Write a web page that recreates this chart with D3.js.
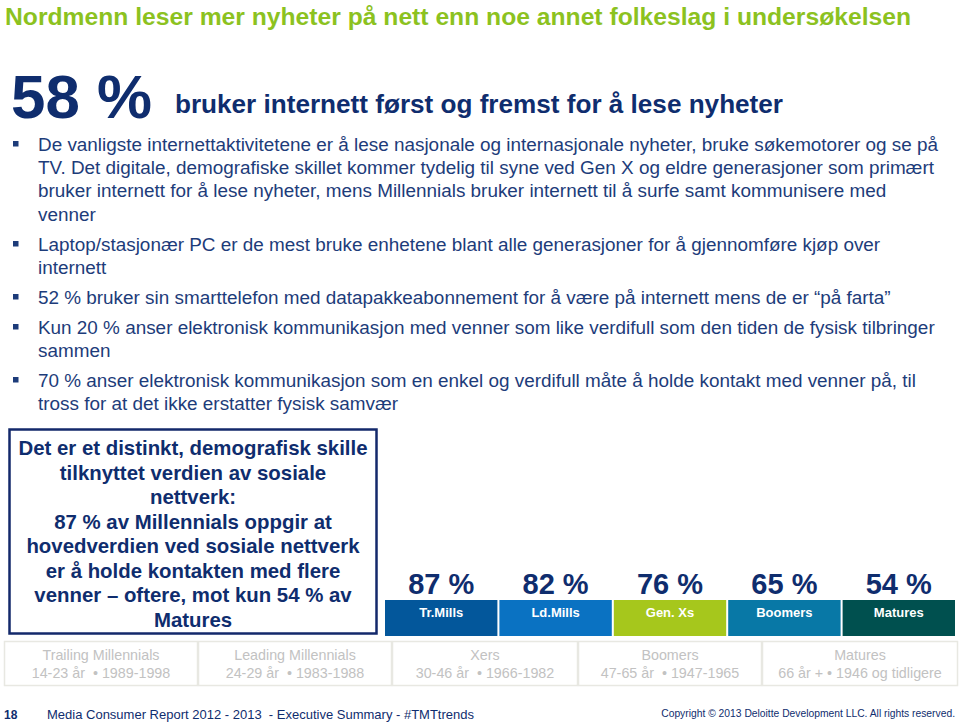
<!DOCTYPE html>
<html><head><meta charset="utf-8">
<script src="https://cdn.jsdelivr.net/npm/d3@7"></script>
<style>body{margin:0;background:#fff}svg{display:block;font-family:"Liberation Sans",Arial,sans-serif}text{white-space:pre}</style>
</head><body><svg id="c" width="960" height="726"></svg>
<script>
const generations = ["Tr.Mills","Ld.Mills","Gen. Xs","Boomers","Matures"];
const socialValue = [87,82,76,65,54];
const genColors = ["#03579b","#0a72c2","#a6c71c","#0878a6","#00504f"];
const tableTitles = ["Trailing Millennials","Leading Millennials","Xers","Boomers","Matures"];
const tableAges = ["14-23 år  • 1989-1998","24-29 år  • 1983-1988","30-46 år  • 1966-1982","47-65 år  • 1947-1965","66 år + • 1946 og tidligere"];
const bullets = [
 ["De vanligste internettaktivitetene er å lese nasjonale og internasjonale nyheter, bruke søkemotorer og se på",
  "TV. Det digitale, demografiske skillet kommer tydelig til syne ved Gen X og eldre generasjoner som primært",
  "bruker internett for å lese nyheter, mens Millennials bruker internett til å surfe samt kommunisere med",
  "venner"],
 ["Laptop/stasjonær PC er de mest bruke enhetene blant alle generasjoner for å gjennomføre kjøp over","internett"],
 ["52 % bruker sin smarttelefon med datapakkeabonnement for å være på internett mens de er “på farta”"],
 ["Kun 20 % anser elektronisk kommunikasjon med venner som like verdifull som den tiden de fysisk tilbringer","sammen"],
 ["70 % anser elektronisk kommunikasjon som en enkel og verdifull måte å holde kontakt med venner på, til","tross for at det ikke erstatter fysisk samvær"]
];
const boxLines = ["Det er et distinkt, demografisk skille","tilknyttet verdien av sosiale","nettverk:","87 % av Millennials oppgir at","hovedverdien ved sosiale nettverk","er å holde kontakten med flere","venner – oftere, mot kun 54 % av","Matures"];

const svg = d3.select("#c");
const navy = "#0f2d6e", body = "#1d3c7a";

svg.append("text").attr("x",5).attr("y",25).attr("fill","#8cc21f").attr("font-weight","bold")
  .attr("font-size",23.5).attr("textLength",906).attr("lengthAdjust","spacingAndGlyphs")
  .text("Nordmenn leser mer nyheter på nett enn noe annet folkeslag i undersøkelsen");

svg.append("text").attr("x",11).attr("y",118).attr("fill",navy).attr("font-weight","bold")
  .attr("font-size",61).attr("textLength",141).attr("lengthAdjust","spacingAndGlyphs").text("58 %");
svg.append("text").attr("x",175).attr("y",113).attr("fill",navy).attr("font-weight","bold")
  .attr("font-size",25).attr("textLength",608).attr("lengthAdjust","spacingAndGlyphs")
  .text("bruker internett først og fremst for å lese nyheter");

// bullets
const bulletStarts = [151,251,304,334,387];
const lh = 23.2;
bullets.forEach((lines,i)=>{
  const y0 = bulletStarts[i];
  svg.append("rect").attr("x",13).attr("y",y0-10).attr("width",5.5).attr("height",5.5).attr("fill",body);
  lines.forEach((l,j)=>{
    svg.append("text").attr("x",38).attr("y",y0+j*lh).attr("fill",body).attr("font-size",18.9).text(l);
  });
});

// box
svg.append("rect").attr("x",9.5).attr("y",429.5).attr("width",367).attr("height",204)
  .attr("fill","none").attr("stroke","#13296b").attr("stroke-width",2.5);
boxLines.forEach((l,i)=>{
  svg.append("text").attr("x",193).attr("y",455+i*24.5).attr("text-anchor","middle")
    .attr("fill",navy).attr("font-weight","bold").attr("font-size",20.4).text(l);
});

// bars
const x = d3.scaleBand().domain(generations).range([385,955]).paddingInner(2/114).paddingOuter(0);
const g = svg.append("g");
g.selectAll("rect.bar").data(generations).join("rect").attr("class","bar")
  .attr("x",d=>x(d)).attr("y",600).attr("width",x.bandwidth()).attr("height",36)
  .attr("fill",(d,i)=>genColors[i]);
g.selectAll("text.lab").data(generations).join("text").attr("class","lab")
  .attr("x",d=>x(d)+x.bandwidth()/2).attr("y",617).attr("text-anchor","middle")
  .attr("fill","#fff").attr("font-weight","bold").attr("font-size",13).text(d=>d);
g.selectAll("text.val").data(generations).join("text").attr("class","val")
  .attr("x",d=>x(d)+x.bandwidth()/2).attr("y",594).attr("text-anchor","middle")
  .attr("fill",navy).attr("font-weight","bold").attr("font-size",29).text((d,i)=>socialValue[i]+" %");

// table
const cellEdges = [4,198,392,578,762,958];
tableTitles.forEach((t,i)=>{
  const x0 = cellEdges[i], x1 = cellEdges[i+1];
  svg.append("rect").attr("x",x0+0.5).attr("y",641.5).attr("width",x1-x0-1).attr("height",44)
    .attr("fill","#fff").attr("stroke","#e8e8e2").attr("stroke-width",1.5);
  const cx = (x0+x1)/2;
  svg.append("text").attr("x",cx).attr("y",660).attr("text-anchor","middle").attr("fill","#c2c2c2")
    .attr("font-size",14.3).text(t);
  svg.append("text").attr("x",cx).attr("y",678).attr("text-anchor","middle").attr("fill","#c2c2c2")
    .attr("font-size",14.3).text(tableAges[i]);
});

// footer
svg.append("text").attr("x",4).attr("y",719).attr("fill",navy).attr("font-weight","bold").attr("font-size",12).text("18");
svg.append("text").attr("x",47).attr("y",719).attr("fill",navy).attr("font-size",13)
  .text("Media Consumer Report 2012 - 2013  - Executive Summary - #TMTtrends");
svg.append("text").attr("x",955).attr("y",717).attr("text-anchor","end").attr("fill",navy).attr("font-size",10.3)
  .text("Copyright © 2013 Deloitte Development LLC. All rights reserved.");
</script></body></html>
